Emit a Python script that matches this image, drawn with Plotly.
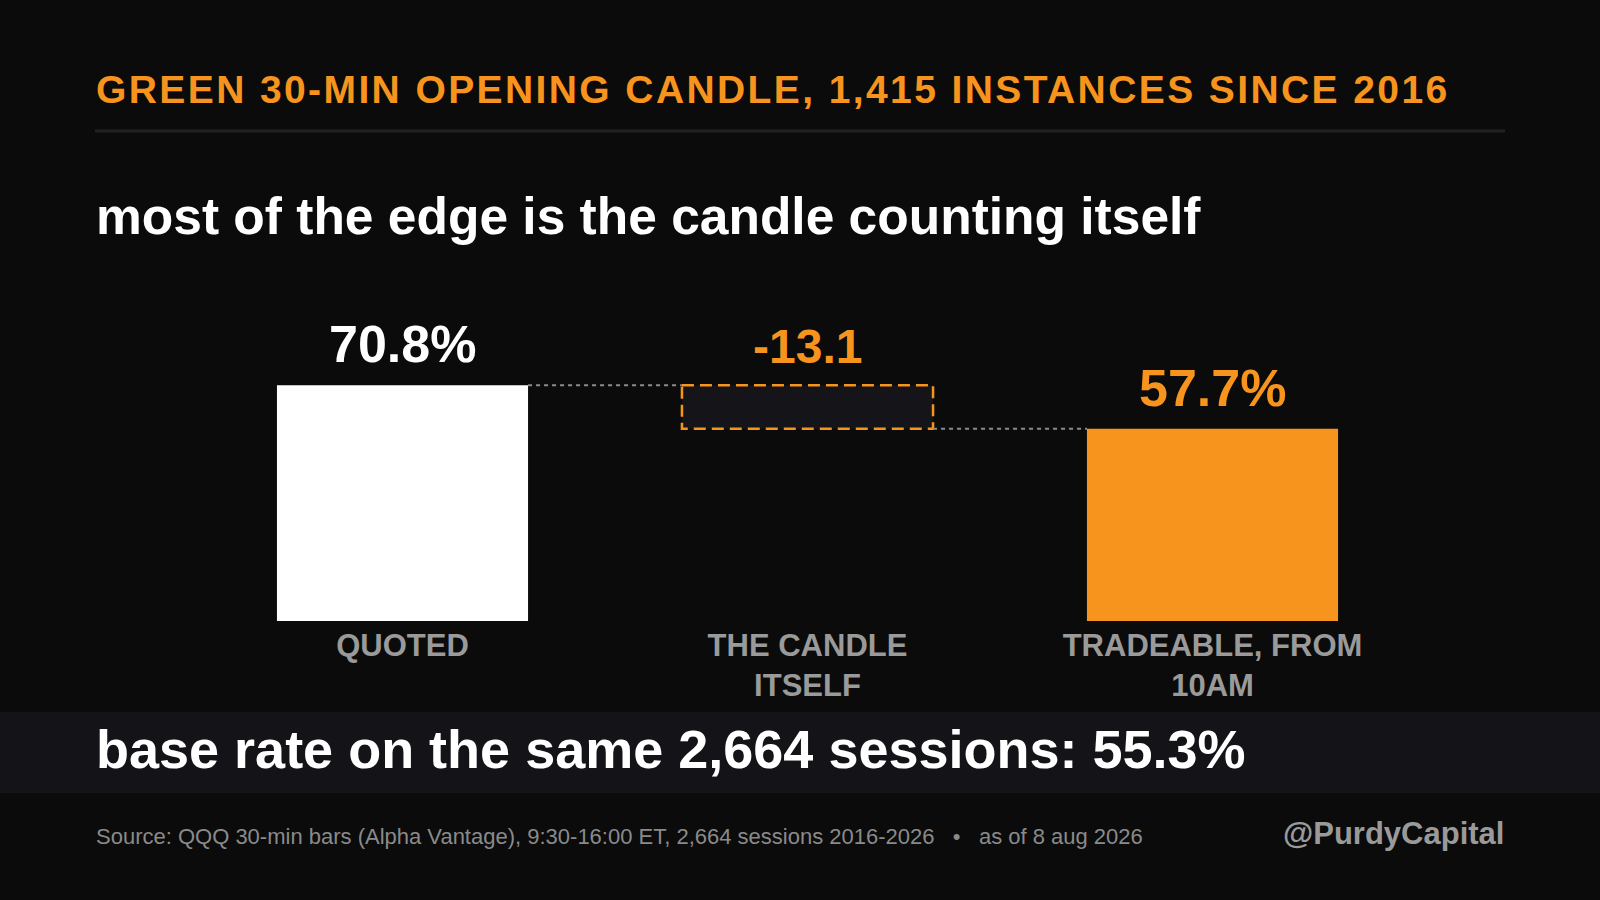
import plotly.graph_objects as go

# chart data
CATEGORIES = ["QUOTED", "THE CANDLE<br>ITSELF", "TRADEABLE, FROM<br>10AM"]
QUOTED = 70.8
CANDLE = -13.1
TRADEABLE = 57.7
VALUE_LABELS = ["70.8%", "-13.1", "57.7%"]

TITLE = "GREEN 30-MIN OPENING CANDLE, 1,415 INSTANCES SINCE 2016"
SUBTITLE = "most of the edge is the candle counting itself"
BASE_RATE = "base rate on the same 2,664 sessions: 55.3%"
SOURCE = ("Source: QQQ 30-min bars (Alpha Vantage), 9:30-16:00 ET, 2,664 sessions 2016-2026"
          "&nbsp;&nbsp;&nbsp;•&nbsp;&nbsp;&nbsp;as of 8 aug 2026")
HANDLE = "@PurdyCapital"

BG = "#0b0b0b"
BAND = "#131318"
ORANGE = "#f7941d"
GREY = "#9a9a9a"
FONT = "Liberation Sans, Arial, sans-serif"

# plot area in pixels (1600x900 canvas)
W, H = 1600, 900
PL, PR, PT, PB = 200, 185, 288, 279
PW = W - PL - PR
PH = H - PT - PB
BAR_W = 0.62


def px_x(px):
    return (px - PL) / PW


def px_y(py):
    return (H - PB - py) / PH


top = QUOTED
bottom = QUOTED + CANDLE
half = BAR_W / 2

fig = go.Figure()

# start / end bars
fig.add_trace(go.Bar(
    x=[0, 2], y=[QUOTED, TRADEABLE], width=BAR_W,
    marker=dict(color=["#ffffff", ORANGE], line=dict(width=0)),
    hoverinfo="skip",
))

# the step itself, dashed box
fig.add_trace(go.Scatter(
    x=[1 - half, 1 + half, 1 + half, 1 - half, 1 - half],
    y=[top, top, bottom, bottom, top],
    mode="lines", fill="toself", fillcolor="#141419",
    line=dict(color=ORANGE, width=2.5, dash="12px,6px"),
    hoverinfo="skip",
))

# dotted connectors
fig.add_trace(go.Scatter(
    x=[0 + half, 1 - half, None, 1 + half, 2 - half],
    y=[top, top, None, bottom, bottom],
    mode="lines", line=dict(color="#8c8c8c", width=2, dash="4px,4px"),
    hoverinfo="skip",
))

annotations = []
tops = [QUOTED, top, TRADEABLE]
colors = ["#ffffff", ORANGE, ORANGE]
sizes = [52, 48, 52]
for i in range(3):
    annotations.append(dict(
        x=i, y=tops[i], xref="x", yref="y", text=VALUE_LABELS[i],
        showarrow=False, yanchor="bottom", yshift=10,
        font=dict(family=FONT, size=sizes[i], color=colors[i], weight="bold"),
    ))

annotations += [
    dict(x=px_x(94), y=px_y(89), xref="paper", yref="paper",
         text='<span style="letter-spacing:2.4px">' + TITLE + '</span>',
         showarrow=False, xanchor="left", yanchor="middle",
         font=dict(family=FONT, size=39, color=ORANGE, weight="bold")),
    dict(x=px_x(94), y=px_y(216), xref="paper", yref="paper", text=SUBTITLE,
         showarrow=False, xanchor="left", yanchor="middle",
         font=dict(family=FONT, size=51.5, color="#ffffff", weight="bold")),
    dict(x=px_x(94), y=px_y(749), xref="paper", yref="paper", text=BASE_RATE,
         showarrow=False, xanchor="left", yanchor="middle",
         font=dict(family=FONT, size=54, color="#ffffff", weight="bold")),
    dict(x=px_x(94), y=px_y(836), xref="paper", yref="paper", text=SOURCE,
         showarrow=False, xanchor="left", yanchor="middle",
         font=dict(family=FONT, size=22, color="#8a8a8a")),
    dict(x=px_x(1506), y=px_y(833), xref="paper", yref="paper", text=HANDLE,
         showarrow=False, xanchor="right", yanchor="middle",
         font=dict(family=FONT, size=31, color=GREY, weight="bold")),
]

shapes = [
    dict(type="rect", xref="paper", yref="paper",
         x0=px_x(0), x1=px_x(W), y0=px_y(793), y1=px_y(712),
         fillcolor=BAND, line=dict(width=0), layer="below"),
    dict(type="line", xref="paper", yref="paper",
         x0=px_x(95), x1=px_x(1505), y0=px_y(131), y1=px_y(131),
         line=dict(color="#222226", width=3)),
]

fig.update_layout(
    width=W, height=H,
    paper_bgcolor=BG, plot_bgcolor=BG,
    margin=dict(l=PL, r=PR, t=PT, b=PB, pad=0),
    showlegend=False,
    annotations=annotations,
    shapes=shapes,
    xaxis=dict(
        range=[-0.5, 2.5], tickvals=[0, 1, 2], ticktext=CATEGORIES,
        showgrid=False, zeroline=False, showline=False, ticks="",
        ticklabelstandoff=3,
        tickfont=dict(family=FONT, size=31, color=GREY, weight="bold"),
        fixedrange=True,
    ),
    yaxis=dict(
        range=[0, 100], visible=False, showgrid=False, zeroline=False,
        fixedrange=True,
    ),
)

fig.write_html(
    "out.html",
    config={"displayModeBar": False},
    post_script="document.body.style.margin='0';document.body.style.background='#0b0b0b';",
)
